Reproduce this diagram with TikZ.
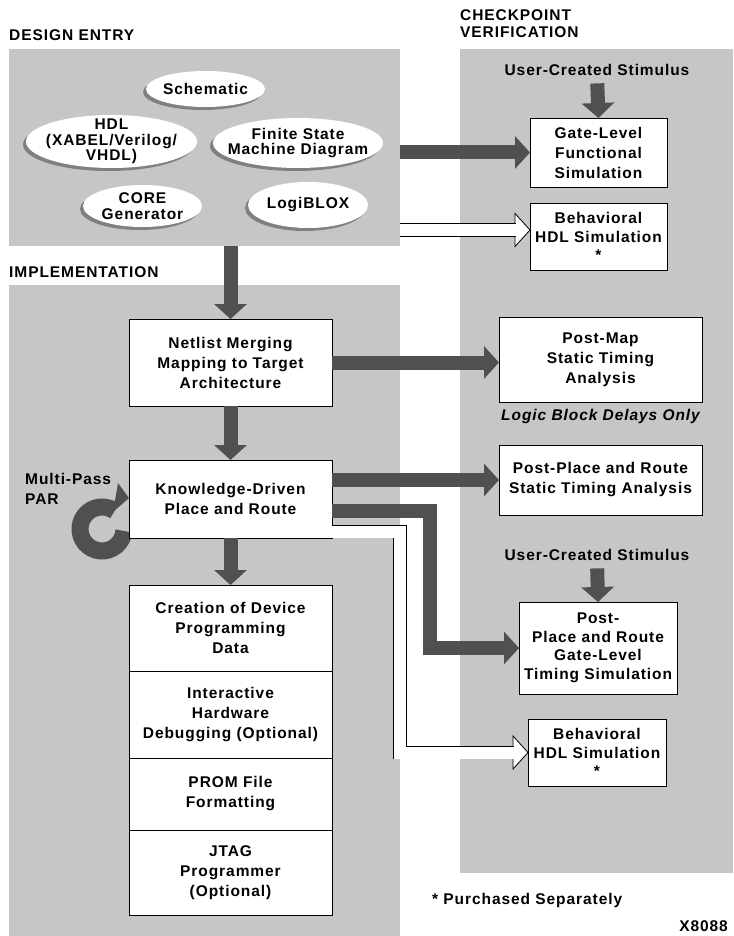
\documentclass[tikz,border=0pt]{standalone}
\usepackage{fontspec}
\setmainfont[LetterSpace=6]{Liberation Sans}
\usepackage{xcolor}
\usetikzlibrary{arrows.meta,positioning,shadows}
\definecolor{panelgray}{HTML}{C6C6C6}
\definecolor{pipegray}{HTML}{505050}
\pgfdeclarelayer{back}
\pgfsetlayers{back,main}

\begin{document}
\begin{tikzpicture}[x=1pt,y=-1pt,
	font=\fontsize{15.5}{20}\selectfont\bfseries,
	Panel/.style={fill=panelgray, inner sep=0pt, outer sep=0pt},
	Box/.style={draw, fill=white, line width=0.9pt, align=center, inner sep=0pt, outer sep=0pt},
	BlobText/.style={align=center, inner sep=0pt, font=\fontsize{15.5}{15.5}\selectfont\bfseries},
	Shade/.style={general shadow={fill=black!50, shadow xshift=-3pt, shadow yshift=-3pt}},
	Head/.style={anchor=west, inner sep=0pt},
	Pipe/.style={draw=pipegray, line width=14pt, -{Triangle[length=15pt,width=32pt]}},
	Hollow/.style={draw=black, double=white, double distance=12pt, line width=0.8pt}]
	\newcommand\Blob[5]{\fill[white, Shade] (#2) ellipse [x radius=#3, y radius=#4]; \node[BlobText] (#1) at (#2) {#5};}
	\newcommand\HollowTip[1]{\draw[fill=white, line width=0.8pt] (#1) -- ++(-15,-16.5) -- ++(0,33) -- cycle;}

	\useasboundingbox (0,0) rectangle (733,936);

	\node[Head] (deh) at (9,35) {DESIGN ENTRY};
	\node[Head] (imh) at (9,272) {IMPLEMENTATION};
	\node[Head, align=left, font=\fontsize{15.5}{17}\selectfont\bfseries] (cvh) at (460,23.5) {CHECKPOINT\\VERIFICATION};

	\Blob{sch}{205.5,89}{59.5}{18}{Schematic}
	\Blob{hdl}{111.5,141.5}{85.5}{26.5}{HDL\\(XABEL/Verilog/\\VHDL)}
	\Blob{fsm}{298,143}{85}{25}{Finite State\\Machine Diagram}
	\Blob{core}{142.5,206}{59.5}{21}{CORE\\Generator}
	\Blob{logi}{308,205}{60}{23}{LogiBLOX}

	\node[inner sep=0pt] (stim1) at (597,70) {User-Created Stimulus};
	\node[Box, minimum width=137pt, minimum height=69pt] (gate) at (598.5,152.5) {Gate-Level\\Functional\\Simulation};
	\node[Box, minimum width=137pt, minimum height=67pt, font=\fontsize{15.5}{18.5}\selectfont\bfseries] (beh1) at (598.5,236.5) {Behavioral\\HDL Simulation\\*};

	\node[Box, minimum width=203pt, minimum height=87pt] (netl) at (230.5,362.5) {Netlist Merging\\Mapping to Target\\Architecture};
	\node[Box, minimum width=203pt, minimum height=78pt] (kd) at (230.5,499) {Knowledge-Driven\\Place and Route};
	\node[anchor=north west, inner sep=0pt, align=left] (mpar) at (25,473) {Multi-Pass\\PAR};

	\node[Box, minimum width=203pt, minimum height=86pt] (cre) at (230.5,628) {Creation of Device\\Programming\\Data};
	\node[Box, minimum width=203pt, minimum height=87pt, below=0pt of cre] (dbg) {Interactive\\Hardware\\Debugging (Optional)};
	\node[Box, minimum width=203pt, minimum height=72pt, below=0pt of dbg] (prom) {PROM File\\Formatting};
	\node[Box, minimum width=203pt, minimum height=85pt, below=0pt of prom] (jtag) {JTAG\\Programmer\\(Optional)};

	\node[Box, minimum width=203pt, minimum height=85pt] (pmap) at (600.5,359.5) {Post-Map\\Static Timing\\Analysis};
	\node[below=7pt of pmap, inner sep=0pt, font=\fontsize{15.5}{20}\selectfont\bfseries\itshape] (lbd) {Logic Block Delays Only};
	\node[Box, minimum width=203pt, minimum height=70pt] (ppst) at (600.5,480) {Post-Place and Route\\Static Timing Analysis};
	\node[inner sep=0pt] (stim2) at (597,555) {User-Created Stimulus};
	\node[Box, minimum width=158pt, minimum height=92pt, font=\fontsize{15.5}{18.5}\selectfont\bfseries] (ppgl) at (598,648) {Post-\\Place and Route\\Gate-Level\\Timing Simulation};
	\node[Box, minimum width=138pt, minimum height=67pt, font=\fontsize{15.5}{18.5}\selectfont\bfseries] (beh2) at (597,752.5) {Behavioral\\HDL Simulation\\*};

	\node[Head] (note) at (432,900) {* Purchased Separately};
	\node[anchor=east, inner sep=0pt] (fig) at (728,926) {X8088};

	\begin{pgfonlayer}{back}
		\node[Panel, minimum width=391pt, minimum height=197pt] (de) at (204.5,147.5) {};
		\node[Panel, minimum width=391pt, minimum height=651pt] (impl) at (204.5,610.5) {};
		\node[Panel, minimum width=273pt, minimum height=824pt] (cv) at (596.5,461) {};
		\draw[pipegray, line width=17pt] (102,529) ++(5:22) arc[start angle=5, end angle=305, radius=22];
		\fill[pipegray] ([yshift=1pt]kd.west) -- ++(-11,-15) -- ++(-5,29) -- cycle;
	\end{pgfonlayer}

	\draw[Pipe, shorten <=7.5pt] (stim1.south) -- (gate.north);
	\draw[Pipe, shorten <=7.5pt] (stim2.south) -- (ppgl.north);
	\draw[Pipe] (netl.north |- de.south) -- (netl.north);
	\draw[Pipe] (netl.south) -- (kd.north);
	\draw[Pipe] (kd.south) -- (cre.north);
	\draw[Pipe] (de.east |- gate.west) -- (gate.west);
	\draw[Pipe] (netl.east) -- (netl.east -| pmap.west);
	\draw[Pipe] (kd.east |- ppst.west) -- (ppst.west);
	\draw[Pipe] ([yshift=-11.5pt]kd.east) -- ++(98,0) |- (ppgl.west);

	\coordinate (hin) at ([yshift=6.5pt]beh1.west);
	\coordinate (hout) at ([yshift=-32.5pt]kd.east);
	\HollowTip{hin}
	\draw[Hollow, shorten >=14pt] (de.east |- hin) -- (hin);
	\HollowTip{beh2.west}
	\draw[Hollow, shorten >=14pt] (hout) -- ++(68,0) |- (beh2.west);
\end{tikzpicture}
\end{document}
